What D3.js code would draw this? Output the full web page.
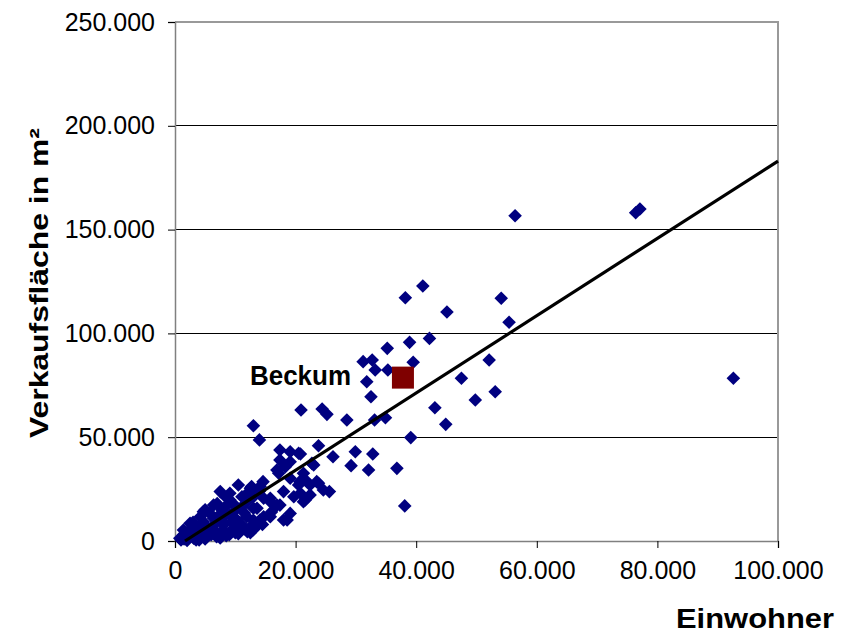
<!DOCTYPE html>
<html><head><meta charset="utf-8">
<script src="https://cdn.jsdelivr.net/npm/d3@7"></script>
<style>html,body{margin:0;padding:0;background:#fff}svg{display:block}</style>
</head><body>
<svg id="chart" width="842" height="634"></svg>
<script>
// Data (Einwohner, Verkaufsfläche in m²)
const einwohner = [56400,76400,77100,92600,38200,41100,45100,54100,55400,38900,42200,39500,52100,47500,53100,49800,43100,35200,31200,32700,33200,35300,31800,32500,20900,24400,25200,28500,33100,34900,44900,39100,13000,14000,23800,26200,29900,32800,29200,32100,36800,38100,17400,19100,20800,22700,19100,18300,17200,23800,25600,14600,20700,21300,12700,19700,19100,15800,17400,13000,14700,18000,20800,22400,21600,20500,17400,23000,16900,19100,10500,12500,7500,9100,14100,15800,18000,20500,21900,23500,22400,21300,24600,4700,6400,9100,11100,13600,16900,15800,18600,14100,11900,12500,10300,8000,5800,3600,2500,1400,800,4700,6400,4200,7500,9100,10300,6900,3100,1900,5300,8300,5800,4200,2500,1400,11100,13000,10000,7800,14700,1000,2000,3000,4000,6000,7000,9500,11000,12000,13500,3500,5000,7000,8500,2000,3500,5000,7500,9000,10500,12500,3000,4500,6500,8000,9500,10000,11500,12000,13000,6000,8500,10000,11500,13000,14500,16000,5000,7000,8500,2000,3000,1500,4000,12000,14000];
const flaeche = [156700,158100,159900,78400,117200,122800,110300,116900,105400,95700,97600,86100,87200,78400,71900,67900,64200,92800,86400,87200,82400,82400,76700,69500,63100,63600,61000,58300,58300,59400,56200,49800,55500,48700,45900,40600,43000,41900,36300,34200,35000,16900,43800,43000,41900,37400,38200,35800,32600,27800,23800,28600,28600,32600,26200,21300,13300,18900,17300,15800,11700,10100,23000,27000,19800,42300,39000,36600,34200,30200,27000,25400,23800,23000,26200,20600,23800,27000,28600,28600,22200,18900,24600,14100,17300,19800,16500,15800,17300,11700,10100,10100,11700,6900,6900,5300,4500,3700,5300,2900,1300,9300,10900,6900,9300,12500,10100,2100,1300,2100,2900,8500,13300,11700,8500,5300,21300,21300,14900,14900,20600,500,800,3000,2000,6000,4000,5500,8000,4500,7000,5500,7500,11500,17000,300,500,1000,1500,3000,3500,4000,7000,4000,8000,12000,9000,17000,13500,19000,10000,3000,2500,4000,6000,5500,8000,14000,15000,18000,21000,3500,9000,1000,500,23000,24000];
const beckum = {name: "Beckum", einwohner: 37800, flaeche: 78700};
const trend = {slope: 1.861, intercept: -3090};
const xTicks = [0,20000,40000,60000,80000,100000];
const yTicks = [0,50000,100000,150000,200000,250000];
const xTitle = "Einwohner";
const yTitle = "Verkaufsfläche in m²";

const svg = d3.select("#chart");
const font = "'Liberation Sans', Arial, Helvetica, sans-serif";
const x = d3.scaleLinear().domain([0,100000]).range([175,778]);
const y = d3.scaleLinear().domain([0,250000]).range([541,22]);
const loc = d3.formatLocale({decimal:",", thousands:".", grouping:[3], currency:["","€"]});
const fmt = loc.format(",d");

// gridlines
svg.append("g").selectAll("line").data(yTicks.filter(d=>d>0 && d<250000)).join("line")
  .attr("x1",x(0)).attr("x2",x(100000)).attr("y1",d=>y(d)).attr("y2",d=>y(d))
  .attr("stroke","#000").attr("stroke-width",1).attr("shape-rendering","crispEdges");
// plot border top/right
svg.append("path").attr("d",`M${x(0)},${y(250000)}H${x(100000)}V${y(0)}`)
  .attr("fill","none").attr("stroke","#999").attr("stroke-width",1.5).attr("shape-rendering","crispEdges");

// axes
const yAxis = d3.axisLeft(y).tickValues(yTicks).tickFormat(fmt).tickSize(7).tickPadding(13);
const xAxis = d3.axisBottom(x).tickValues(xTicks).tickFormat(fmt).tickSize(7).tickPadding(13);
const gy = svg.append("g").attr("transform",`translate(${x(0)},0)`).call(yAxis);
const gx = svg.append("g").attr("transform",`translate(0,${y(0)})`).call(xAxis);
[gy,gx].forEach(g=>{
  g.select(".domain").attr("stroke","#808080").attr("stroke-width",1.5);
  g.selectAll(".tick line").attr("stroke","#000");
  g.selectAll("text").attr("font-family",font).attr("font-size",25).attr("fill","#000");
});

// scatter points
const diamond = (cx,cy,r)=>`M${cx},${cy-r}L${cx+r},${cy}L${cx},${cy+r}L${cx-r},${cy}Z`;
svg.append("g").selectAll("path").data(d3.range(einwohner.length)).join("path")
  .attr("d",i=>diamond(x(einwohner[i]),y(flaeche[i]),6.8))
  .attr("fill","#000080");

// trend line
const tx0 = -trend.intercept/trend.slope;
svg.append("line")
  .attr("x1",x(tx0)).attr("y1",y(0))
  .attr("x2",x(100000)).attr("y2",y(trend.slope*100000+trend.intercept))
  .attr("stroke","#000").attr("stroke-width",3.2);

// Beckum
svg.append("rect").attr("x",x(beckum.einwohner)-11).attr("y",y(beckum.flaeche)-11)
  .attr("width",22).attr("height",22).attr("fill","#7f0000");
svg.append("text").attr("x",250).attr("y",385).text(beckum.name)
  .attr("font-family",font).attr("font-weight","bold").attr("font-size",27)
  .attr("textLength",101).attr("lengthAdjust","spacingAndGlyphs");

// titles
svg.append("text").attr("x",834).attr("y",628).attr("text-anchor","end").text(xTitle)
  .attr("font-family",font).attr("font-weight","bold").attr("font-size",28)
  .attr("textLength",158).attr("lengthAdjust","spacingAndGlyphs");
svg.append("text").attr("transform","translate(48,283) rotate(-90)").attr("text-anchor","middle").text(yTitle)
  .attr("font-family",font).attr("font-weight","bold").attr("font-size",26)
  .attr("textLength",310).attr("lengthAdjust","spacingAndGlyphs");
</script>
</body></html>
